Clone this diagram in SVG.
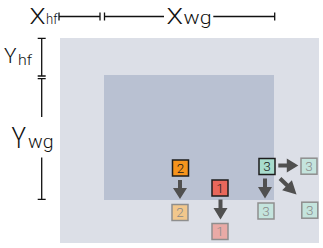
<svg xmlns="http://www.w3.org/2000/svg" xmlns:xlink="http://www.w3.org/1999/xlink" width="323" height="248" viewBox="0 0 323 248">
  <style>
    .lbl { font-family: Roboto, "Liberation Sans", Arial, sans-serif; font-weight: 300; fill: #111; }
    .dim { stroke: #111; stroke-width: 1.3; fill: none; }
    .box { stroke-width: 1.5; }
    .dark { stroke: #1c1c1c; }
    .faded { stroke: #8e8e8e; }
    .num { font-family: Roboto, "Liberation Sans", Arial, sans-serif; font-weight: 300; font-size: 13.5px; text-anchor: middle; }
    .numd { fill: #1a1a1a; }
    .numf { fill: #8a8a8a; }
    .arr { fill: #505050; }
  </style>
  <defs>
    <path id="arrow" d="M0,-2 H8.5 V-7 L20,0 L8.5,7 V2 H0 Z"/>
  </defs>
  <rect x="0" y="0" width="323" height="248" fill="#ffffff"/>
  <g id="outer-region">
    <rect x="60" y="38" width="259" height="205" fill="#dcdfe7"/>
  </g>
  <g id="inner-region">
    <rect x="104" y="75" width="170" height="125" fill="#b9c1d2"/>
  </g>
  <g id="dimensions">
    <path class="dim" d="M59,16.5 H100 M59,12.5 V20.5 M100,12.5 V20.5"/>
    <path class="dim" d="M104.5,16.5 H164 M213.3,16.5 H274.7 M104.5,12.5 V20.5 M274.7,12.5 V20.5"/>
    <path class="dim" d="M41.7,38.3 V76 M37.7,38.3 H45.7 M37.7,76 H45.7"/>
    <path class="dim" d="M41.7,78.7 V117 M41.7,157.5 V199.3 M37.7,78.7 H45.7 M37.7,199.3 H45.7"/>
    <text class="lbl"><tspan x="29.5" y="24" font-size="22" textLength="16" lengthAdjust="spacingAndGlyphs">X</tspan><tspan x="46" y="24" font-size="15" textLength="11.5" lengthAdjust="spacingAndGlyphs">hf</tspan></text>
    <text class="lbl"><tspan x="166.5" y="24.3" font-size="22" textLength="16.5" lengthAdjust="spacingAndGlyphs">X</tspan><tspan x="183.5" y="24.3" font-size="18" textLength="28" lengthAdjust="spacingAndGlyphs">wg</tspan></text>
    <text class="lbl"><tspan x="4" y="62.7" font-size="20" textLength="12.5" lengthAdjust="spacingAndGlyphs">Y</tspan><tspan x="18" y="64.5" font-size="15.5" textLength="14" lengthAdjust="spacingAndGlyphs">hf</tspan></text>
    <text class="lbl"><tspan x="11.5" y="148.3" font-size="29" textLength="14.5" lengthAdjust="spacingAndGlyphs">Y</tspan><tspan x="28" y="148.3" font-size="19" textLength="25.5" lengthAdjust="spacingAndGlyphs">wg</tspan></text>
  </g>
  <g id="connectors">
    <use xlink:href="#arrow" class="arr" transform="translate(180,180) rotate(90) scale(0.95,1)"/>
    <use xlink:href="#arrow" class="arr" transform="translate(220.5,199.5) rotate(90)"/>
    <use xlink:href="#arrow" class="arr" transform="translate(265,178.5) rotate(90)"/>
    <use xlink:href="#arrow" class="arr" transform="translate(278.3,165.5)"/>
    <use xlink:href="#arrow" class="arr" transform="translate(280,178.5) rotate(44) scale(1.15,1)"/>
  </g>
  <g id="node-2">
    <rect class="box dark" x="172.5" y="160" width="16" height="16" fill="#f7941d"/>
    <text class="num numd" x="180.5" y="172.8">2</text>
  </g>
  <g id="node-2-next">
    <rect class="box faded" x="172" y="204.5" width="16" height="16" fill="#f2c78c"/>
    <text class="num numf" x="180" y="217.3">2</text>
  </g>
  <g id="node-1">
    <rect class="box dark" x="212" y="180" width="16" height="16" fill="#e8675b"/>
    <text class="num numd" x="220" y="192.8">1</text>
  </g>
  <g id="node-1-next">
    <rect class="box faded" x="212" y="223.5" width="16" height="16" fill="#e9aaa6"/>
    <text class="num numf" x="220" y="236.3">1</text>
  </g>
  <g id="node-3">
    <rect class="box dark" x="259" y="158.5" width="16" height="16" fill="#a8dccd"/>
    <text class="num numd" x="267" y="171.3">3</text>
  </g>
  <g id="node-3-down">
    <rect class="box faded" x="258" y="203" width="16" height="16" fill="#c4e4dd"/>
    <text class="num numf" x="266" y="215.8">3</text>
  </g>
  <g id="node-3-right">
    <rect class="box faded" x="301" y="158.2" width="16" height="16" fill="#c4e4dd"/>
    <text class="num numf" x="309" y="171">3</text>
  </g>
  <g id="node-3-diag">
    <rect class="box faded" x="301.8" y="202.2" width="16" height="16" fill="#c4e4dd"/>
    <text class="num numf" x="309.8" y="215">3</text>
  </g>
</svg>
